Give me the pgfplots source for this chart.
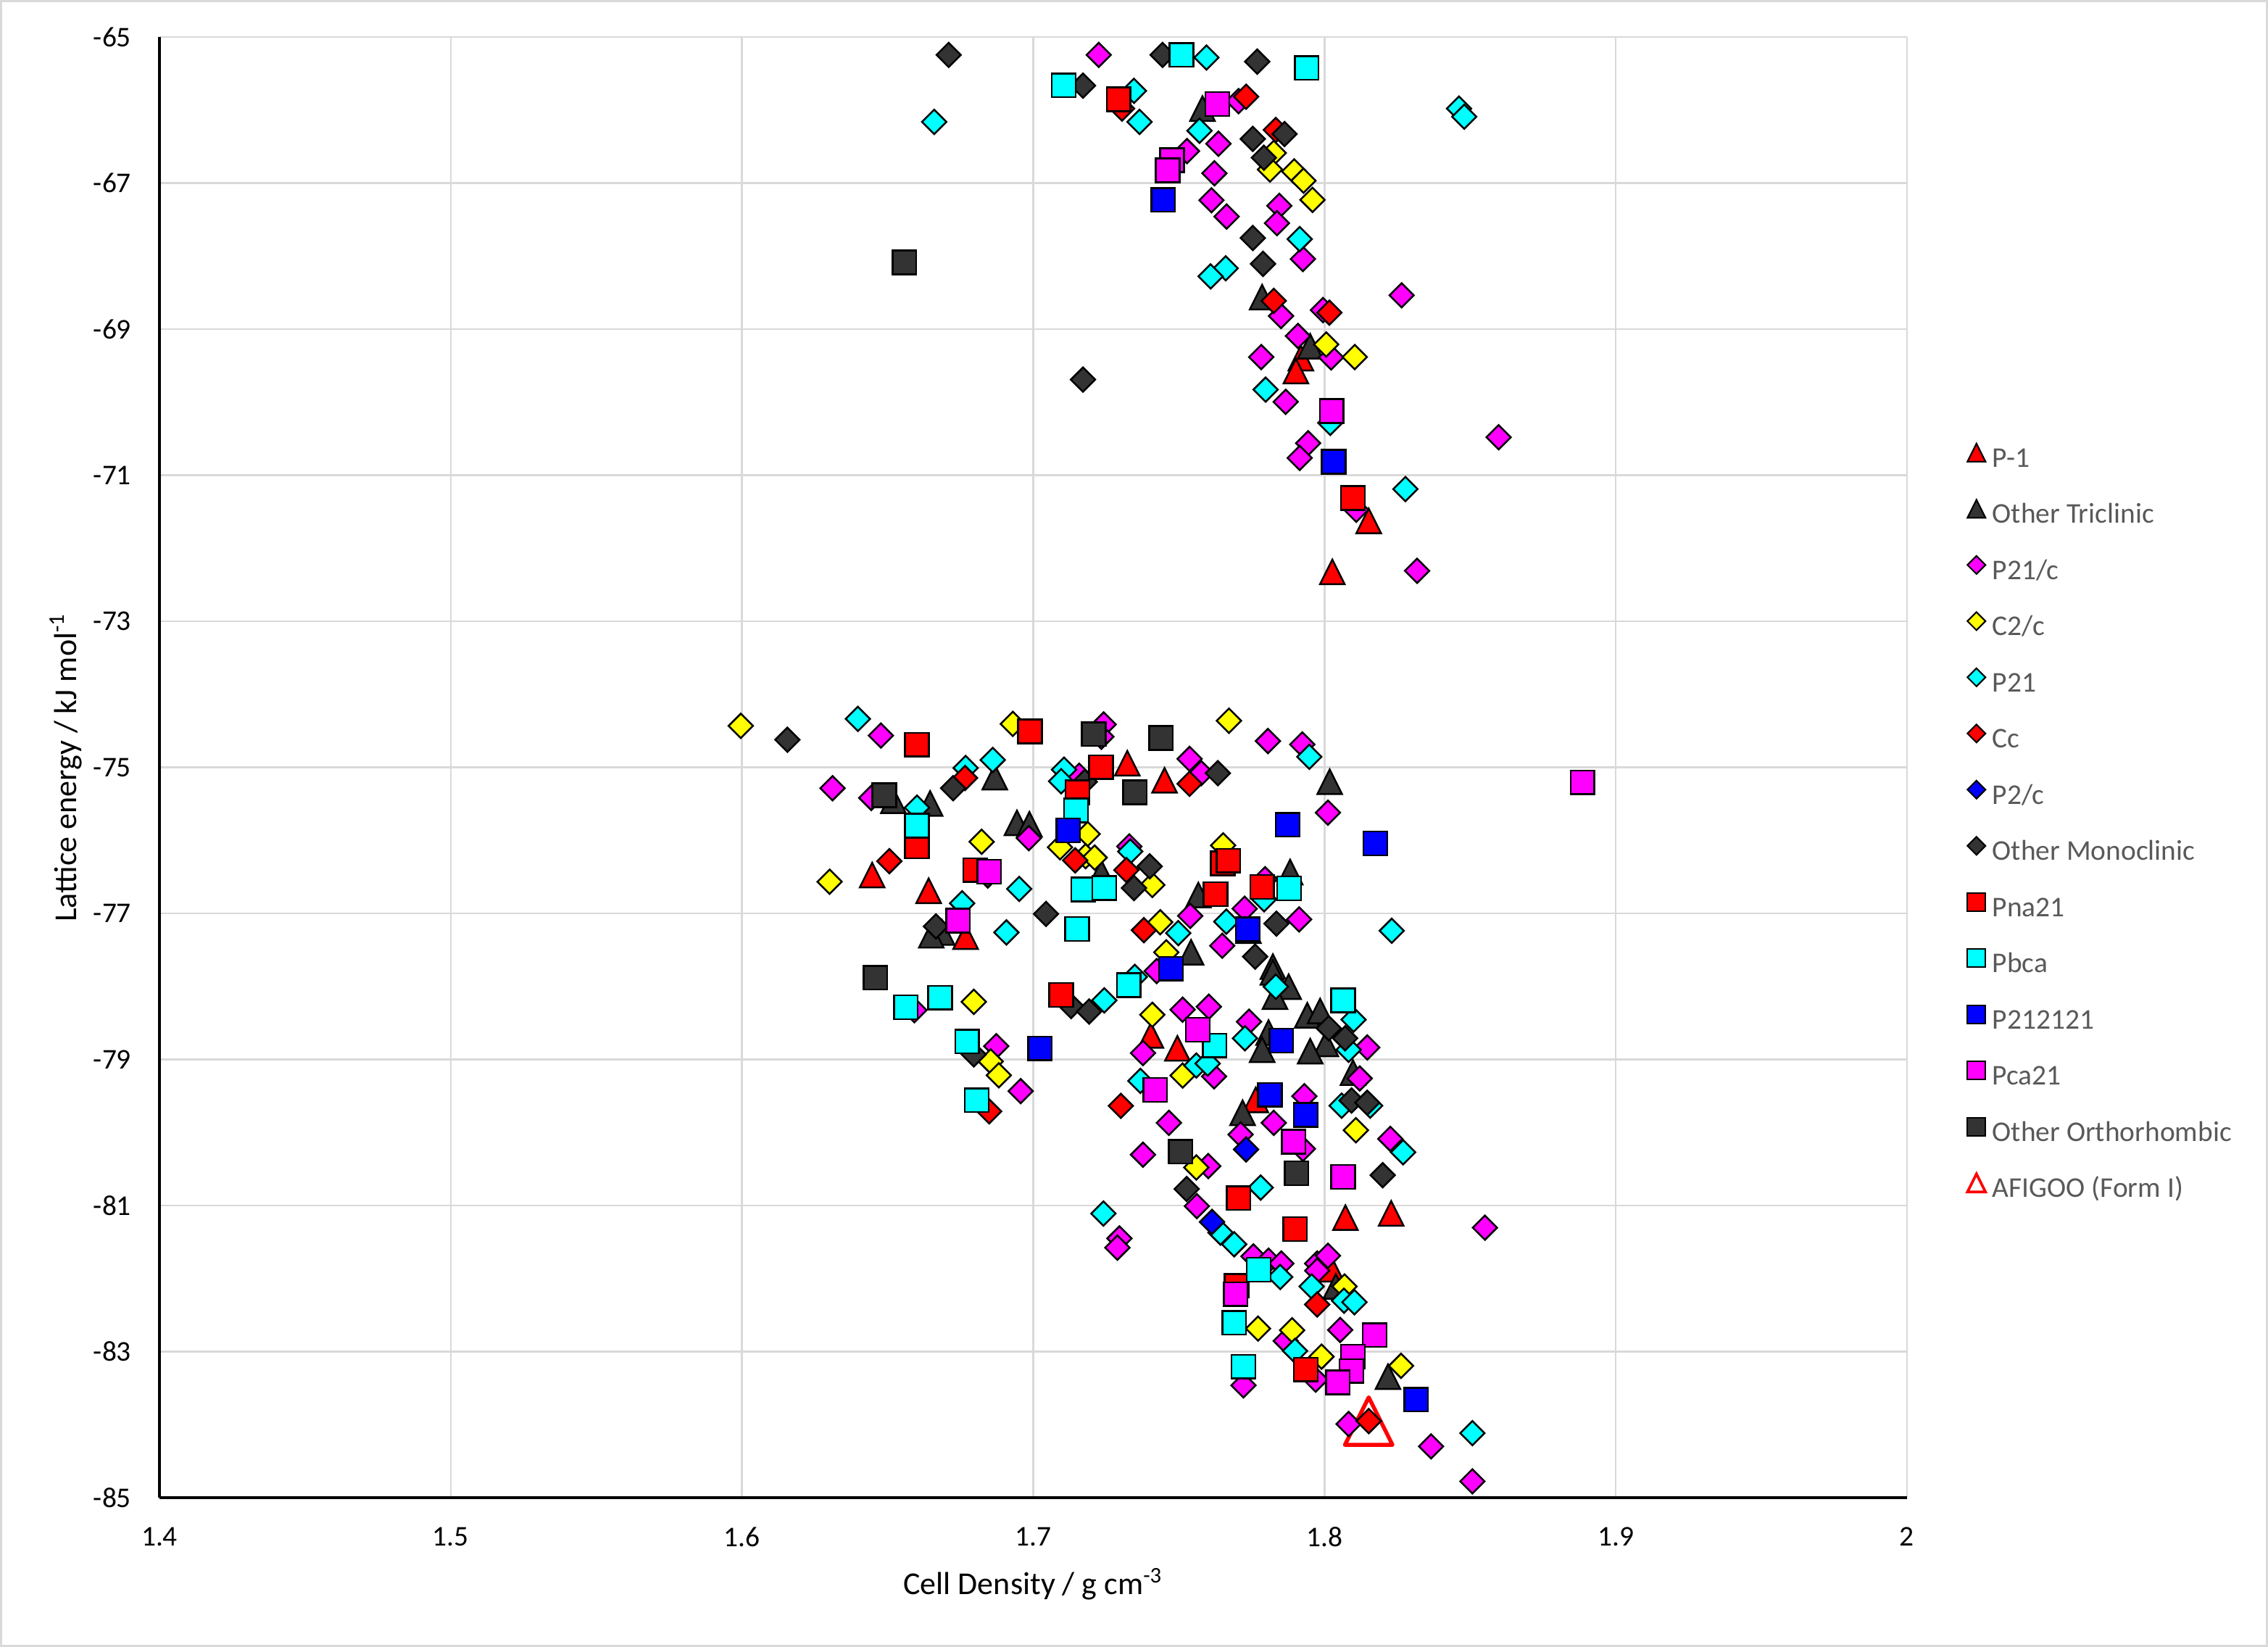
\documentclass[border=0pt]{standalone}
\usepackage{pgfplots}
\pgfplotsset{compat=1.18}
\usepackage{fontspec}
\setmainfont{Carlito}
\definecolor{cred}{HTML}{FF0000}
\definecolor{cdark}{HTML}{333333}
\definecolor{cmag}{HTML}{FF00FF}
\definecolor{cyel}{HTML}{FFFF00}
\definecolor{ccya}{HTML}{00FFFF}
\definecolor{cblu}{HTML}{0000FF}
\definecolor{gridc}{HTML}{D9D9D9}
\definecolor{legc}{HTML}{595959}
\makeatletter
\pgfdeclareplotmark{xtri}{%
  \pgfpathmoveto{\pgfqpoint{0pt}{\pgfplotmarksize}}%
  \pgfpathlineto{\pgfqpoint{\pgfplotmarksize}{-\pgfplotmarksize}}%
  \pgfpathlineto{\pgfqpoint{-\pgfplotmarksize}{-\pgfplotmarksize}}%
  \pgfpathclose
  \pgfusepathqfillstroke}
\pgfdeclareplotmark{xtrio}{%
  \pgfpathmoveto{\pgfqpoint{0pt}{\pgfplotmarksize}}%
  \pgfpathlineto{\pgfqpoint{\pgfplotmarksize}{-\pgfplotmarksize}}%
  \pgfpathlineto{\pgfqpoint{-\pgfplotmarksize}{-\pgfplotmarksize}}%
  \pgfpathclose
  \pgfusepathqstroke}
\pgfdeclareplotmark{xdia}{%
  \pgfpathmoveto{\pgfqpoint{0pt}{\pgfplotmarksize}}%
  \pgfpathlineto{\pgfqpoint{\pgfplotmarksize}{0pt}}%
  \pgfpathlineto{\pgfqpoint{0pt}{-\pgfplotmarksize}}%
  \pgfpathlineto{\pgfqpoint{-\pgfplotmarksize}{0pt}}%
  \pgfpathclose
  \pgfusepathqfillstroke}
\makeatother
\pgfplotsset{
  tri/.style={only marks, mark=xtri, mark size=4.1pt, mark options={draw=black, line width=0.6pt, fill=#1}},
  dia/.style={only marks, mark=xdia, mark size=4.05pt, mark options={draw=black, line width=0.6pt, fill=#1}},
  sq/.style={only marks, mark=square*, mark size=3.95pt, mark options={draw=black, line width=0.6pt, fill=#1}},
  ltri/.style={only marks, mark=xtri, mark size=3pt, mark options={draw=black, line width=0.5pt, fill=#1}},
  ldia/.style={only marks, mark=xdia, mark size=3pt, mark options={draw=black, line width=0.5pt, fill=#1}},
  lsq/.style={only marks, mark=square*, mark size=3pt, mark options={draw=black, line width=0.5pt, fill=#1}},
}
\begin{document}
\begin{tikzpicture}
\begin{axis}[
  scale only axis, width=580.8pt, height=485.4pt,
  xmin=1.4, xmax=2, ymin=-85, ymax=-65,
  xtick={1.4,1.5,1.6,1.7,1.8,1.9,2},
  ytick={-85,-83,-81,-79,-77,-75,-73,-71,-69,-67,-65},
  grid=major, major grid style={draw=gridc, line width=0.6pt},
  axis x line*=bottom, axis y line*=left,
  axis line style={-, black, line width=0.75pt},
  major tick length=0pt,
  /pgf/number format/assume math mode=true,
  tick label style={font=\fontsize{9.5}{11}\selectfont, text=black},
  yticklabel style={inner sep=0pt, xshift=-9.2pt},
  xticklabel style={inner sep=0pt, yshift=-9.6pt},
  xlabel={Cell Density / g cm\textsuperscript{-3}},
  ylabel={Lattice energy / kJ mol\textsuperscript{-1}},
  label style={font=\fontsize{10.6}{12}\selectfont},
  xlabel style={at={(axis description cs:0.5,-0.0591)}, anchor=center},
  ylabel style={at={(axis description cs:-0.0536,0.5)}, anchor=center},
  legend image code/.code={\draw[#1] plot coordinates {(3pt,2.8pt)};},
  legend cell align=left,
  legend style={draw=none, fill=none, at={(rel axis cs:1,1)}, anchor=north west,
    xshift=20.1pt, yshift=-135.1pt, inner sep=0pt, outer sep=0pt,
    row sep=8.87pt, column sep=2.3pt,
    font=\fontsize{9.5}{11}\selectfont, text=legc,
    nodes={inner sep=0pt, text height=6pt, text depth=2pt}},
]
% AFIGOO (drawn first, below)
\addplot[only marks, mark=xtrio, mark size=7.9pt, mark options={draw=cred, line width=1.3pt, line join=round}, forget plot] coordinates {(1.8152,-83.952)};
% P-1
\addplot[tri=cred, forget plot] coordinates {
(1.7919,-69.397) (1.7902,-69.575) (1.8152,-71.625) (1.8027,-72.324)
(1.7323,-74.944) (1.6447,-76.475) (1.6641,-76.691) (1.6768,-77.318)
(1.7451,-75.178) (1.7495,-78.848) (1.7404,-78.671) (1.7764,-79.554)
(1.8072,-81.166) (1.8229,-81.107) (1.8024,-81.872)};
% Other Triclinic
\addplot[tri=cdark, forget plot] coordinates {
(1.7581,-65.980) (1.7786,-68.562) (1.7951,-69.235)
(1.6868,-75.134) (1.6646,-75.495) (1.6520,-75.457) (1.6944,-75.761) (1.6987,-75.780)
(1.7234,-76.444) (1.6687,-77.261) (1.6650,-77.300) (1.8018,-75.198) (1.7542,-77.533)
(1.7739,-77.238) (1.7823,-77.729) (1.7823,-77.808) (1.7877,-78.004) (1.7830,-78.141)
(1.7941,-78.396) (1.7985,-78.337) (1.8005,-78.788) (1.7808,-78.632) (1.7786,-78.867)
(1.7951,-78.887) (1.8098,-79.181) (1.7719,-79.730) (1.7882,-76.434) (1.7567,-76.748)
(1.8039,-82.108) (1.8218,-83.344)};
% P21/c
\addplot[dia=cmag, forget plot] coordinates {
(1.7225,-65.245) (1.7705,-65.878) (1.7528,-66.562) (1.7636,-66.461) (1.7622,-66.866)
(1.7612,-67.235) (1.7664,-67.458) (1.7845,-67.311) (1.7837,-67.549) (1.7926,-68.040)
(1.8265,-68.537) (1.7851,-68.820) (1.7995,-68.739) (1.7909,-69.094) (1.7783,-69.382)
(1.8023,-69.387) (1.7867,-69.995) (1.7944,-70.562) (1.7915,-70.764) (1.8109,-71.473)
(1.8318,-72.309) (1.8598,-70.480)
(1.6477,-74.565) (1.6311,-75.286) (1.6444,-75.419) (1.6985,-75.970) (1.7242,-74.413)
(1.7234,-74.580) (1.7158,-75.115) (1.6873,-78.818) (1.6957,-79.434) (1.7330,-76.084)
(1.7377,-78.913) (1.6592,-78.325) (1.7806,-74.640) (1.7924,-74.687) (1.7537,-74.884)
(1.7577,-75.080) (1.8012,-75.621) (1.7539,-77.034) (1.7726,-76.936) (1.7913,-77.082)
(1.7649,-77.443) (1.7513,-78.318) (1.7603,-78.278) (1.7741,-78.483) (1.8147,-78.836)
(1.7621,-79.232) (1.8121,-79.260) (1.7931,-79.503) (1.7466,-79.868) (1.7826,-79.868)
(1.7424,-77.790) (1.7796,-76.532) (1.7296,-81.451) (1.7289,-81.577) (1.7377,-80.304)
(1.7712,-80.028) (1.7926,-80.224) (1.7601,-80.460) (1.8226,-80.087) (1.7562,-81.009)
(1.7756,-81.696) (1.7808,-81.755) (1.7852,-81.794) (1.7975,-81.794) (1.8012,-81.688)
(1.7975,-81.892) (1.8551,-81.303) (1.8054,-82.704) (1.7867,-82.854) (1.7970,-83.384)
(1.7722,-83.462) (1.8083,-83.992) (1.8366,-84.298) (1.8508,-84.777)};
% C2/c
\addplot[dia=cyel, forget plot] coordinates {
(1.7826,-66.587) (1.7813,-66.815) (1.7896,-66.840) (1.7928,-66.967) (1.7959,-67.230)
(1.8006,-69.210) (1.8104,-69.382)
(1.5996,-74.432) (1.6930,-74.405) (1.6823,-76.019) (1.6301,-76.566) (1.6796,-78.211)
(1.6854,-79.027) (1.6882,-79.217) (1.7187,-75.913) (1.7092,-76.095) (1.7180,-76.217)
(1.7211,-76.236) (1.7672,-74.362) (1.7652,-76.069) (1.7409,-76.611) (1.7436,-77.121)
(1.7457,-77.533) (1.7409,-78.388) (1.7513,-79.220) (1.8108,-79.969) (1.7560,-80.479)
(1.7772,-82.685) (1.7889,-82.708) (1.7990,-83.069) (1.8069,-82.108) (1.8263,-83.195)};
% P21
\addplot[dia=ccya, forget plot] coordinates {
(1.6660,-66.162) (1.7595,-65.281) (1.7346,-65.737) (1.7365,-66.162) (1.7571,-66.283)
(1.8462,-65.980) (1.8480,-66.091) (1.7915,-67.767) (1.7661,-68.167) (1.7609,-68.278)
(1.7798,-69.828) (1.8020,-70.283) (1.8278,-71.190)
(1.6398,-74.337) (1.6768,-75.009) (1.6861,-74.899) (1.6601,-75.552) (1.6952,-76.665)
(1.6756,-76.862) (1.6908,-77.261) (1.7106,-75.032) (1.7096,-75.191) (1.7333,-76.152)
(1.7244,-78.191) (1.7349,-77.869) (1.7368,-79.293) (1.7948,-74.856) (1.7663,-77.113)
(1.7498,-77.270) (1.8231,-77.238) (1.7833,-78.004) (1.8100,-78.455) (1.7727,-78.710)
(1.7560,-79.083) (1.7599,-79.056) (1.8083,-78.867) (1.8059,-79.633) (1.8157,-79.633)
(1.7793,-76.807) (1.7241,-81.110) (1.7781,-80.754) (1.7643,-81.370) (1.7690,-81.531)
(1.7848,-81.978) (1.7956,-82.108) (1.8067,-82.304) (1.8103,-82.324) (1.7899,-82.991)
(1.8270,-80.271) (1.8508,-84.117)};
% Cc
\addplot[dia=cred, forget plot] coordinates {
(1.7731,-65.818) (1.7833,-66.273) (1.7826,-68.613) (1.8017,-68.774) (1.7305,-65.980)
(1.6506,-76.285) (1.6766,-75.146) (1.7144,-76.274) (1.7320,-76.407) (1.6849,-79.711)
(1.7301,-79.635) (1.7380,-77.230) (1.7537,-75.225) (1.7975,-82.355) (1.8152,-83.952)};
% P2/c
\addplot[dia=cblu, forget plot] coordinates {(1.7731,-80.232) (1.7614,-81.225)};
% Other Monoclinic
\addplot[dia=cdark, forget plot] coordinates {
(1.6710,-65.245) (1.7444,-65.245) (1.7769,-65.337) (1.7171,-65.666) (1.7754,-66.395)
(1.7863,-66.329) (1.7792,-66.653) (1.7754,-67.752) (1.7789,-68.106) (1.7171,-69.691)
(1.6156,-74.622) (1.6725,-75.286) (1.7044,-77.007) (1.6666,-77.178) (1.7130,-78.268)
(1.7192,-78.344) (1.6796,-78.932) (1.7177,-75.199) (1.7346,-76.653) (1.6844,-76.482)
(1.7634,-75.080) (1.7400,-76.355) (1.7835,-77.140) (1.7762,-77.592) (1.8015,-78.573)
(1.8071,-78.710) (1.8093,-79.562) (1.8147,-79.593) (1.8200,-80.585) (1.7527,-80.774)};
% Pna21
\addplot[sq=cred, forget plot] coordinates {
(1.7293,-65.853) (1.8098,-71.311) (1.6601,-74.690) (1.6989,-74.508) (1.7233,-74.997)
(1.7152,-75.343) (1.6601,-76.084) (1.6801,-76.406) (1.7096,-78.116) (1.7651,-76.316)
(1.7670,-76.277) (1.7626,-76.736) (1.7786,-76.638) (1.7705,-80.899) (1.7899,-81.323)
(1.7698,-82.100) (1.7936,-83.246)};
% Pbca
\addplot[sq=ccya, forget plot] coordinates {
(1.7509,-65.245) (1.7939,-65.423) (1.7105,-65.661) (1.6601,-75.799) (1.7147,-75.590)
(1.7172,-76.672) (1.7244,-76.653) (1.7151,-77.212) (1.7328,-77.983) (1.6563,-78.286)
(1.6680,-78.153) (1.6773,-78.754) (1.6806,-79.559) (1.7879,-76.658) (1.8064,-78.192)
(1.7623,-78.808) (1.7774,-81.880) (1.7690,-82.606) (1.7722,-83.207)};
% P212121
\addplot[sq=cblu, forget plot] coordinates {
(1.7446,-67.230) (1.8032,-70.815) (1.7120,-75.863) (1.7023,-78.849) (1.7874,-75.786)
(1.8175,-76.041) (1.7737,-77.219) (1.7473,-77.756) (1.7852,-78.742) (1.7813,-79.483)
(1.7936,-79.758) (1.8315,-83.658)};
% Pca21
\addplot[sq=cmag, forget plot] coordinates {
(1.7632,-65.919) (1.7477,-66.688) (1.7462,-66.825) (1.8025,-70.121) (1.6849,-76.429)
(1.6742,-77.098) (1.8886,-75.206) (1.7565,-78.592) (1.7419,-79.417) (1.7894,-80.126)
(1.8064,-80.609) (1.7695,-82.214) (1.8172,-82.775) (1.8098,-83.069) (1.8093,-83.266)
(1.8046,-83.423)};
% Other Orthorhombic
\addplot[sq=cdark, forget plot] coordinates {
(1.6558,-68.087) (1.6489,-75.381) (1.7208,-74.546) (1.7349,-75.343) (1.6458,-77.880)
(1.7439,-74.597) (1.7506,-80.263) (1.7904,-80.558)};
% legend
\addlegendimage{ltri=cred}\addlegendentry{P-1}
\addlegendimage{ltri=cdark}\addlegendentry{Other Triclinic}
\addlegendimage{ldia=cmag}\addlegendentry{P21/c}
\addlegendimage{ldia=cyel}\addlegendentry{C2/c}
\addlegendimage{ldia=ccya}\addlegendentry{P21}
\addlegendimage{ldia=cred}\addlegendentry{Cc}
\addlegendimage{ldia=cblu}\addlegendentry{P2/c}
\addlegendimage{ldia=cdark}\addlegendentry{Other Monoclinic}
\addlegendimage{lsq=cred}\addlegendentry{Pna21}
\addlegendimage{lsq=ccya}\addlegendentry{Pbca}
\addlegendimage{lsq=cblu}\addlegendentry{P212121}
\addlegendimage{lsq=cmag}\addlegendentry{Pca21}
\addlegendimage{lsq=cdark}\addlegendentry{Other Orthorhombic}
\addlegendimage{only marks, mark=xtrio, mark size=3pt, mark options={draw=cred, line width=0.9pt}}\addlegendentry{AFIGOO (Form I)}
\end{axis}
\draw[gridc, line width=0.75pt] (-52.6pt,-49.2pt) rectangle (700.4pt,497.3pt);
\pgfresetboundingbox
\path[use as bounding box] (-53pt,-49.6pt) rectangle (700.8pt,497.7pt);
\end{tikzpicture}
\end{document}
